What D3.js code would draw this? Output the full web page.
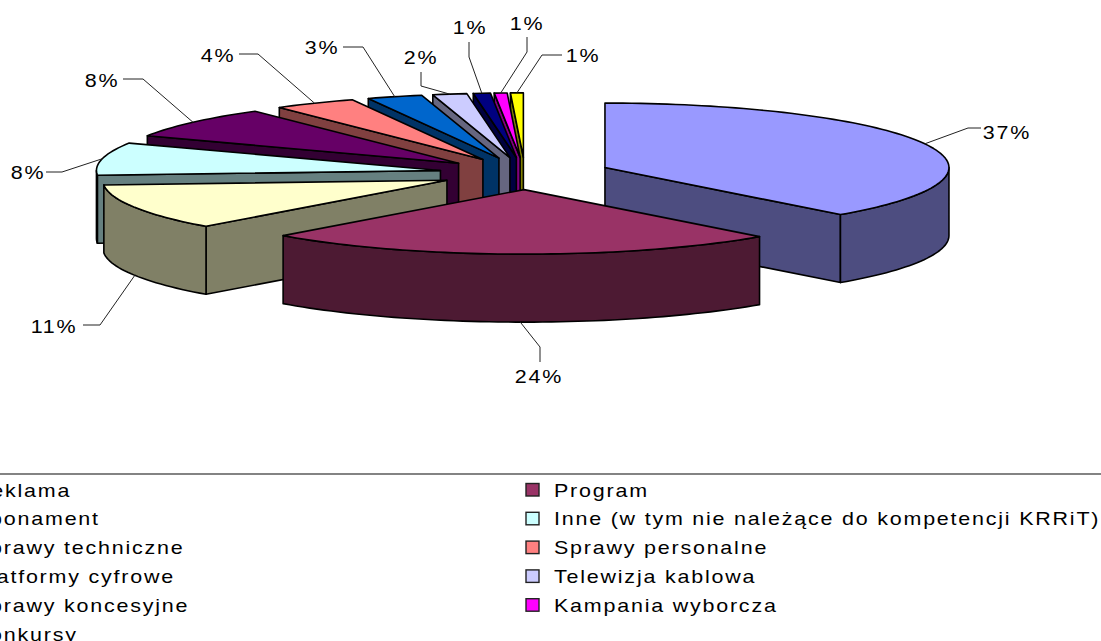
<!DOCTYPE html>
<html>
<head>
<meta charset="utf-8">
<script src="https://cdn.jsdelivr.net/npm/d3@7"></script>
<style>
  body { margin: 0; background: #fff; }
  svg { display: block; }
  text { font-family: "Liberation Sans", Arial, sans-serif; font-size: 18.5px; letter-spacing: 1.55px; fill: #000; }
</style>
</head>
<body>
<svg id="chart"></svg>
<script>
// Data
const categories = ["Reklama", "Program", "Abonament", "Inne (w tym nie należące do kompetencji KRRiT)",
    "Sprawy techniczne", "Sprawy personalne", "Platformy cyfrowe", "Telewizja kablowa",
    "Sprawy koncesyjne", "Kampania wyborcza", "Konkursy"];
const shares = [38.0, 24.35, 11.5, 8.15, 7.92, 3.88, 2.6, 1.6, 0.8, 0.6, 0.6];
const percentLabels = ["37%", "24%", "11%", "8%", "8%", "4%", "3%", "2%", "1%", "1%", "1%"];
const colors = ["#9999FF", "#993366", "#FFFFCC", "#CCFFFF", "#660066", "#FF8080",
    "#0066CC", "#CCCCFF", "#000080", "#FF00FF", "#FFFF00"];

// Label placement: [elbow x, elbow y, end x, end y, text x, text y]
const leaders = [
    [968, 128, 981, 128, 1007, 132],
    [540, 347, 540, 362, 539, 376],
    [100, 325, 83, 325, 54, 326],
    [62, 172, 46, 172, 28, 172],
    [143, 79, 123, 79, 102, 80],
    [258, 54, 239, 54, 218, 55],
    [363, 47, 343, 47, 322, 47],
    [421, 86, 421, 72, 421, 57],
    [469, 57, 469, 42, 470, 27],
    [527, 52, 527, 37, 527, 23],
    [542, 55, 562, 55, 583, 55]
];

const width = 1101, height = 641;
const depth = 68, explode = 0.25;
const textStretch = 1.16;

const svg = d3.select("#chart").attr("width", width).attr("height", height);

// unit circle -> screen
const x = d3.scaleLinear().domain([-1, 1]).range([525 - 344, 525 + 344]);
const y = d3.scaleLinear().domain([-1, 1]).range([173.5 - 64.5, 173.5 + 64.5]);

const pie = d3.pie().sort(null).value(d => d);
const slices = pie(shares).map((d, i) => {
    const mid = (d.startAngle + d.endAngle) / 2;
    return {
        i,
        a0: d.startAngle,
        a1: d.endAngle,
        mid,
        ox: explode * Math.sin(mid),
        oy: -explode * Math.cos(mid)
    };
});

const rimPoint = (s, a, drop = 0) => [x(s.ox + Math.sin(a)), y(s.oy - Math.cos(a)) + drop];
const apex = (s, drop = 0) => [x(s.ox), y(s.oy) + drop];

function arcPoints(s, a0, a1, drop = 0) {
    const n = Math.max(2, Math.ceil((a1 - a0) / (Math.PI / 120)));
    return d3.range(n + 1).map(k => rimPoint(s, a0 + (a1 - a0) * k / n, drop));
}

const line = d3.line();
const closed = pts => line(pts) + "Z";
const shade = c => {
    const r = d3.rgb(c);
    return d3.rgb(r.r / 2, r.g / 2, r.b / 2).formatHex();
};

// back slices first, Program last
const order = [10, 9, 8, 7, 6, 5, 4, 3, 2, 0, 1];

const pieG = svg.append("g")
    .attr("stroke", "#000")
    .attr("stroke-width", 1.6)
    .attr("stroke-linejoin", "round");

order.forEach(i => {
    const s = slices[i];
    const g = pieG.append("g");
    const side = shade(colors[i]);

    // radial walls that face the viewer
    if (s.a0 > Math.PI) {
        g.append("path").attr("fill", side)
            .attr("d", closed([apex(s), rimPoint(s, s.a0), rimPoint(s, s.a0, depth), apex(s, depth)]));
    }
    if (s.a1 < Math.PI) {
        g.append("path").attr("fill", side)
            .attr("d", closed([apex(s), rimPoint(s, s.a1), rimPoint(s, s.a1, depth), apex(s, depth)]));
    }

    // outer wall, front half of the ellipse only
    const from = Math.max(s.a0, Math.PI / 2), to = Math.min(s.a1, Math.PI * 1.5);
    if (from < to) {
        g.append("path").attr("fill", side)
            .attr("d", closed(arcPoints(s, from, to).concat(arcPoints(s, from, to, depth).reverse())));
    }

    // top face
    g.append("path").attr("fill", colors[i])
        .attr("d", closed([apex(s)].concat(arcPoints(s, s.a0, s.a1))));
});

// Leader lines and labels
const labelG = svg.append("g");
slices.forEach(s => {
    const front = s.mid > Math.PI / 2 && s.mid < Math.PI * 1.5;
    const l = leaders[s.i];
    labelG.append("path")
        .attr("fill", "none")
        .attr("stroke", "#222")
        .attr("stroke-width", 1)
        .attr("d", line([rimPoint(s, s.mid, front ? depth : 0), [l[0], l[1]], [l[2], l[3]]]));
    labelG.append("text")
        .attr("transform", `translate(${l[4]},${l[5]}) scale(${textStretch},1)`)
        .attr("dy", "0.36em")
        .attr("text-anchor", "middle")
        .text(percentLabels[s.i]);
});

// Legend, left column runs off the page
const legend = svg.append("g");
legend.append("rect")
    .attr("x", -70).attr("y", 474)
    .attr("width", width + 140).attr("height", 300)
    .attr("fill", "none").attr("stroke", "#333").attr("stroke-width", 1.2);

const rowY = d3.scalePoint().domain(d3.range(6)).range([490, 634]);
const colX = d3.scaleOrdinal().domain([0, 1]).range([-54, 526]);

categories.forEach((name, i) => {
    const col = i % 2, row = Math.floor(i / 2);
    const item = legend.append("g")
        .attr("transform", `translate(${colX(col)},${rowY(row)})`);
    item.append("rect")
        .attr("x", 0).attr("y", -6.5)
        .attr("width", 13).attr("height", 12.5)
        .attr("fill", colors[i])
        .attr("stroke", "#222").attr("stroke-width", 1.4);
    item.append("text")
        .attr("transform", `translate(28,0) scale(${textStretch},1)`)
        .attr("dy", "0.36em")
        .text(name);
});
</script>
</body>
</html>
